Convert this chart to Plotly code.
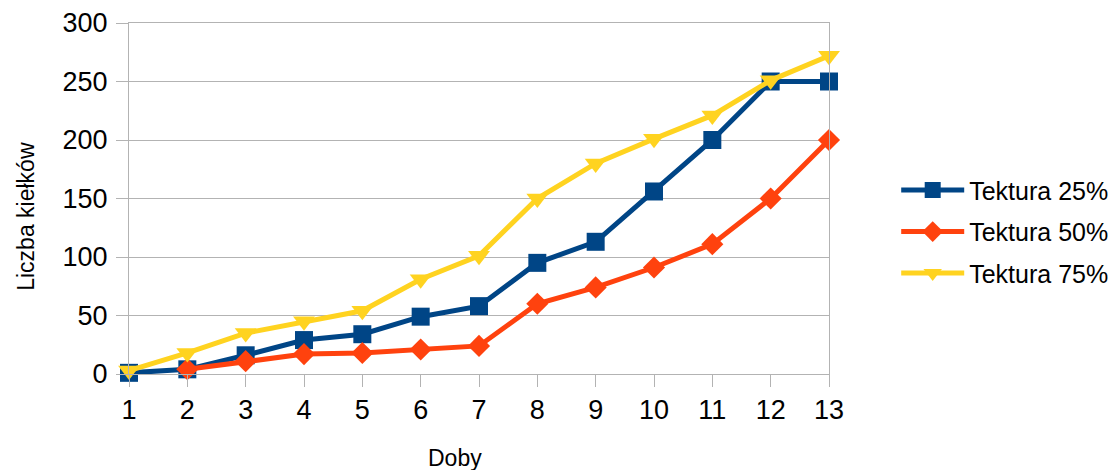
import plotly.graph_objects as go

# Days of observation and sprout counts per cardboard share
doby = [1, 2, 3, 4, 5, 6, 7, 8, 9, 10, 11, 12, 13]
tektura_25 = [1, 4, 16, 29, 34, 49, 58, 95, 113, 156, 200, 250, 250]
tektura_50 = [None, 4, 11, 17, 18, 21, 24, 60, 74, 91, 111, 150, 200]
tektura_75 = [3, 18, 35, 45, 54, 81, 101, 150, 180, 201, 221, 251, 272]

series_names = ["Tektura 25%", "Tektura 50%", "Tektura 75%"]
y_ticks = [0, 50, 100, 150, 200, 250, 300]

FONT = "Liberation Sans, Arial, sans-serif"
GRID = "#b3b3b3"

styles = [
    dict(color="#004586", symbol="square", size=18),
    dict(color="#ff420e", symbol="diamond", size=17),
    dict(color="#ffd320", symbol="triangle-down", size=19),
]

fig = go.Figure()
for name, values, st in zip(series_names, [tektura_25, tektura_50, tektura_75], styles):
    fig.add_trace(go.Scatter(
        x=doby, y=values, name=name, mode="lines+markers",
        legendgroup=name,
        line=dict(color=st["color"], width=5),
        marker=dict(symbol=st["symbol"], size=st["size"], color=st["color"],
                    line=dict(width=0)),
        connectgaps=False,
        cliponaxis=False,
    ))

axis_common = dict(
    showline=True, linecolor=GRID, linewidth=1, mirror=True,
    ticks="outside", ticklen=12, tickcolor=GRID, tickwidth=1,
    tickfont=dict(family=FONT, size=27, color="#000000"),
    zeroline=False,
)

fig.update_xaxes(range=[1, 13], tickvals=doby, showgrid=False, **axis_common)
fig.update_yaxes(range=[0, 300], tickvals=y_ticks, showgrid=True, gridcolor=GRID,
                 gridwidth=1, ticklabelstandoff=3, **axis_common)

fig.update_layout(
    width=1113, height=470,
    margin=dict(l=129, r=284, t=23, b=96, autoexpand=False),
    paper_bgcolor="white", plot_bgcolor="white",
    font=dict(family=FONT, color="#000000"),
    showlegend=True,
    legend=dict(
        x=1.096, y=0.405, xanchor="left", yanchor="middle",
        font=dict(family=FONT, size=25, color="#000000"),
        itemwidth=63, tracegroupgap=6, traceorder="grouped",
        bgcolor="rgba(0,0,0,0)",
    ),
    annotations=[
        dict(text="Doby", xref="paper", yref="paper", x=0.4657, y=-0.239,
             showarrow=False, xanchor="center", yanchor="middle",
             font=dict(family=FONT, size=23, color="#000000")),
        dict(text="Liczba kiełków", xref="paper", yref="paper", x=-0.1471, y=0.448,
             showarrow=False, xanchor="center", yanchor="middle", textangle=-90,
             font=dict(family=FONT, size=23, color="#000000")),
    ],
)

fig.write_html("out.html")
